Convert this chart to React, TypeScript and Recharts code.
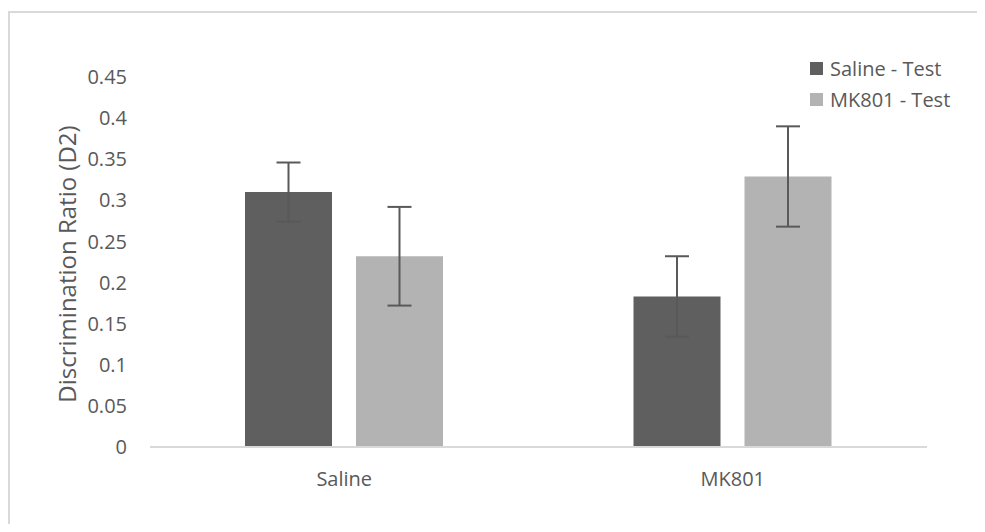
import { BarChart, Bar, XAxis, YAxis, ErrorBar } from 'recharts';

const categories = ['Saline', 'MK801'];
const seriesNames = ['Saline - Test', 'MK801 - Test'];
const seriesColors = ['#5f5f5f', '#b3b3b3'];
const salineTest = [0.31, 0.183];
const salineTestErr = [0.036, 0.049];
const mk801Test = [0.232, 0.329];
const mk801TestErr = [0.06, 0.061];
const yTicks = [0, 0.05, 0.1, 0.15, 0.2, 0.25, 0.3, 0.35, 0.4, 0.45];

const data = categories.map((name, i) => ({
  name,
  saline: salineTest[i],
  salineErr: salineTestErr[i],
  mk801: mk801Test[i],
  mk801Err: mk801TestErr[i],
}));

const FONT = '"Open Sans", sans-serif';
const TEXT = '#595959';

export default function App() {
  return (
    <div style={{ position: 'relative', width: 969, height: 516, fontFamily: FONT }}>
      {/* frame */}
      <div
        style={{
          position: 'absolute',
          left: 0,
          top: 3,
          width: 969,
          height: 513,
          borderTop: '2px solid #d9d9d9',
          borderLeft: '2px solid #d9d9d9',
          boxSizing: 'border-box',
        }}
      />
      {/* y title */}
      <div
        style={{
          position: 'absolute',
          left: 58,
          top: 256,
          transform: 'translate(-50%, -50%) rotate(-90deg)',
          whiteSpace: 'nowrap',
          fontSize: 24,
          color: TEXT,
        }}
      >
        Discrimination Ratio (D2)
      </div>
      {/* legend */}
      <div style={{ position: 'absolute', left: 802, top: 45, fontSize: 20, color: TEXT }}>
        {seriesNames.map((n, i) => (
          <div key={n} style={{ display: 'flex', alignItems: 'center', height: 31 }}>
            <span
              style={{ width: 13, height: 13, background: seriesColors[i], marginRight: 7, display: 'inline-block' }}
            />
            {n}
          </div>
        ))}
      </div>
      <BarChart
        width={969}
        height={516}
        data={data}
        margin={{ top: 69, right: 50, left: 82, bottom: 47 }}
        barSize={87}
        barGap={24}
        style={{ position: 'absolute', left: 0, top: 0 }}
      >
        <XAxis
          dataKey="name"
          axisLine={{ stroke: '#d9d9d9', strokeWidth: 2 }}
          tickLine={false}
          tickMargin={19}
          tick={{ fontSize: 20, fill: TEXT, fontFamily: FONT }}
          height={30}
        />
        <YAxis
          domain={[0, 0.45]}
          ticks={yTicks}
          tickFormatter={(v) => String(v)}
          axisLine={false}
          tickLine={false}
          tickMargin={17}
          width={60}
          tick={{ fontSize: 20, fill: TEXT, fontFamily: FONT }}
          interval={0}
        />
        <Bar dataKey="saline" name={seriesNames[0]} fill={seriesColors[0]} isAnimationActive={false}>
          <ErrorBar dataKey="salineErr" width={12} stroke="#595959" strokeWidth={2} />
        </Bar>
        <Bar dataKey="mk801" name={seriesNames[1]} fill={seriesColors[1]} isAnimationActive={false}>
          <ErrorBar dataKey="mk801Err" width={12} stroke="#595959" strokeWidth={2} />
        </Bar>
      </BarChart>
    </div>
  );
}
